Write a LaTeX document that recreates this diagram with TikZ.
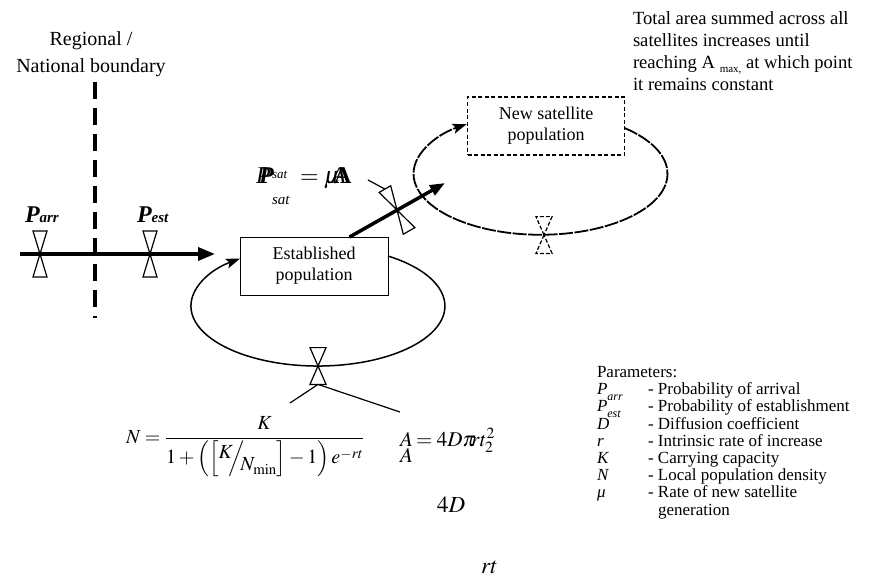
\documentclass[tikz,border=0pt]{standalone}
\usepackage{amsmath}
\usepackage{mathptmx}
\usepackage{fontspec}
\setmainfont{Liberation Serif}
\usetikzlibrary{arrows.meta,calc}
\tikzset{
  valve/.pic={
    \draw[line width=1.2pt] (0,0) -- (-7,-23) -- (7,-23) -- cycle
                            (0,0) -- (-7,23) -- (7,23) -- cycle;
    \coordinate (-top) at (0,-23);
    \coordinate (-bot) at (0,23);
  }
}
\begin{document}
\begin{tikzpicture}[x=1pt,y=-1pt,
  every node/.style={inner sep=0pt, outer sep=0pt},
  lbl/.style={anchor=base west},
  clbl/.style={anchor=base},
  box/.style={draw, line width=1pt, minimum width=148pt, minimum height=58pt,
              align=center, font=\fontsize{18}{21}\selectfont},
  dbox/.style={box, minimum width=157pt, line width=1.5pt, dash pattern=on 4pt off 2.5pt},
  flow/.style={line width=3.5pt, -{Triangle[length=17pt,width=13pt]}},
  loopc/.style={line width=1.5pt, -{Stealth[length=14pt,width=10pt,inset=3pt]}},
  boundary/.style={line width=4.5pt, dash pattern=on 17pt off 9pt},
  thinc/.style={line width=1.2pt},
  t18/.style={font=\fontsize{18.6}{20}\selectfont},
  t17/.style={font=\fontsize{17}{17}\selectfont},
  t20/.style={font=\fontsize{20}{24}\selectfont},
]
\useasboundingbox (0,0) rectangle (872,578);

% boundary
\node[clbl, t20] (reg1) at (91,46) {Regional /};
\node[clbl, t20] (reg2) at (91,72) {National boundary};
\coordinate (btop) at (95,82);
\coordinate (bbot) at (95,318);
\draw[boundary] (btop) -- (bbot);

% arrival flow
\coordinate (fstart) at (20,254);
\coordinate (fend) at (215,254);
\draw[flow] (fstart) -- (fend);
\pic (varr) at (40,254) {valve};
\pic (vest) at (150,254) {valve};
\node[lbl] (parr) at (25,222) {\fontsize{24}{24}\selectfont\bfseries\itshape P\fontsize{15}{15}\selectfont arr};
\node[lbl] (pest) at (137,222) {\fontsize{24}{24}\selectfont\bfseries\itshape P\fontsize{15}{15}\selectfont est};

% boxes
\node[box] (est) at (314,266) {Established\\population};
\node[dbox] (new) at (546,126) {New satellite\\population};

% loops
\draw[loopc] ([yshift=10pt]est.east) arc[start angle=-56.5, end angle=232.1, x radius=127, y radius=60];
\pic (vgrow) [xscale=1.15, yscale=0.8] at (318,366) {valve};
\draw[loopc, line width=1.8pt, dash pattern=on 14pt off 1.5pt] ([yshift=-2pt]new.east) arc[start angle=-48.6, end angle=234.4, x radius=127, y radius=61];
\pic (vsgrow) [xscale=1.15, yscale=0.8, line width=1.6pt, dash pattern=on 4pt off 2pt] at (544,235) {valve};

% satellite flow
\coordinate (dstart) at ($(est.north west)!0.74!(est.north east)$);
\coordinate (dend) at (445,183);
\draw[flow, -{Triangle[length=15pt,width=11pt]}] (dstart) -- (dend);
\pic (vsat) [rotate=30, yscale=1.05, xscale=0.95] at (397,210) {valve};
\coordinate (psatc) at (368,180);
\draw[thinc] (psatc) -- (vsat-top);

% P_sat = mu A (garbled as in the source)
\node[lbl, font=\fontsize{24}{24}\selectfont] (psatA) at (256,183) {\itshape P};
\node[lbl, font=\fontsize{24}{24}\selectfont] (psatB) at (259,183) {\bfseries\itshape P};
\node[lbl, font=\fontsize{13}{13}\selectfont] (psats) at (272,178) {\itshape sat};
\node[lbl, font=\fontsize{24}{24}\selectfont] (psateq) at (300,183) {$=\mu$};
\node[lbl, font=\fontsize{24}{24}\selectfont] (psatA1) at (331,183) {\itshape A};
\node[lbl, font=\fontsize{24}{24}\selectfont] (psatA2) at (334,183) {\bfseries A};
\node[lbl, font=\fontsize{15}{15}\selectfont] (psatsub) at (272,204) {\itshape sat};

% growth connectors
\coordinate (nlink) at (290,403);
\coordinate (alink) at (400,412);
\draw[thinc] (vgrow-bot) -- (nlink);
\draw[thinc] (vgrow-bot) -- (alink);

% logistic formula
\node[lbl, font=\fontsize{20}{24}\selectfont] (nform) at (126,443)
  {$N=\dfrac{K}{1+\left(\left[\raisebox{5pt}{$K$}\!\!\Big/\!\!\raisebox{-7pt}{$N_{\mathrm{min}}$}\right]-1\right)e^{-rt}}$};

% area formula (garbled as in the source)
\node[lbl, font=\fontsize{21}{21}\selectfont] (aform1) at (400,446) {$A$};
\node[lbl, font=\fontsize{21}{21}\selectfont] (aform2) at (416,446) {$=4D\pi\!\!\!\!\;rt^2_2$};
\node[lbl, font=\fontsize{21}{21}\selectfont] (aform3) at (400,462) {$A$};
\node[lbl, font=\fontsize{23}{23}\selectfont] (fourd) at (437,512) {$4D$};
\node[lbl, font=\fontsize{23}{23}\selectfont] (rtlbl) at (481,573) {$rt$};

% note
\node[lbl, t18] (note1) at (633,25) {Total area summed across all};
\node[lbl, t18] (note2) at (633,47) {satellites increases until};
\node[lbl, t18] (note3) at (633,68.5) {reaching A \raisebox{-4pt}{\fontsize{11}{11}\selectfont max,} at which point};
\node[lbl, t18] (note4) at (633,90) {it remains constant};

% parameters
\node[lbl, t17] (parh) at (597,377) {Parameters:};
\node[lbl, t17] (s1) at (597,394) {\itshape P\raisebox{-6pt}{\fontsize{12}{12}\selectfont arr}};
\node[lbl, t17] (s2) at (597,411.5) {\itshape P\raisebox{-6pt}{\fontsize{12}{12}\selectfont est}};
\node[lbl, t17] (s3) at (597,429) {\itshape D};
\node[lbl, t17] (s4) at (597,446) {\itshape r};
\node[lbl, t17] (s5) at (597,463) {\itshape K};
\node[lbl, t17] (s6) at (597,480.5) {\itshape N};
\node[lbl, t17] (s7) at (597,497.75) {\itshape μ};
\node[lbl, t17] (d1) at (648,394) {- Probability of arrival};
\node[lbl, t17] (d2) at (648,411.5) {- Probability of establishment};
\node[lbl, t17] (d3) at (648,429) {- Diffusion coefficient};
\node[lbl, t17] (d4) at (648,446) {- Intrinsic rate of increase};
\node[lbl, t17] (d5) at (648,463) {- Carrying capacity};
\node[lbl, t17] (d6) at (648,480.5) {- Local population density};
\node[lbl, t17] (d7) at (648,497.75) {- Rate of new satellite};
\node[lbl, t17] (d8) at (658,515) {generation};
\end{tikzpicture}
\end{document}
